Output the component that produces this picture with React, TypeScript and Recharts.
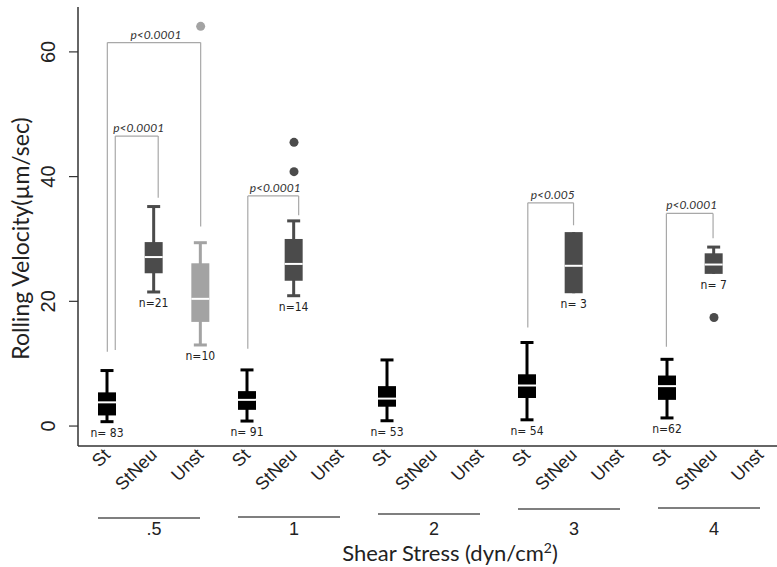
import React from "react";
import {
  ComposedChart,
  Bar,
  Scatter,
  XAxis,
  YAxis,
  ReferenceLine,
} from "recharts";

// 15 slots: 3 cell types for each of 5 shear stress levels
const CELL_TYPES = ["St", "StNeu", "Unst"];
const SHEAR_LEVELS = [".5", "1", "2", "3", "4"];

// box statistics per slot (null = no data)
const WHISKER_LOW = [0.7, 21.5, 13.0, 0.8, 20.9, null, 0.85, null, null, 1.0, 21.3, null, 1.3, 24.4, null];
const Q1 = [1.7, 24.5, 16.7, 2.6, 23.3, null, 3.1, null, null, 4.5, 21.3, null, 4.2, 24.4, null];
const MEDIAN = [3.8, 27.1, 20.4, 4.2, 26.0, null, 4.4, null, null, 6.5, 25.7, null, 6.4, 25.9, null];
const Q3 = [5.4, 29.5, 26.1, 5.6, 30.0, null, 6.4, null, null, 8.3, 31.1, null, 8.1, 27.7, null];
const WHISKER_HIGH = [8.9, 35.2, 29.4, 9.0, 32.9, null, 10.6, null, null, 13.4, 31.1, null, 10.7, 28.7, null];
const N_COUNT = ["n= 83", "n=21", "n=10", "n= 91", "n=14", null, "n= 53", null, null, "n= 54", "n= 3", null, "n=62", "n= 7", null];

// outliers: slot index and value
const OUTLIER_SLOT = [2, 4, 4, 13];
const OUTLIER_VALUE = [64.1, 45.5, 40.8, 17.4];

// significance brackets (x in slot units, y in µm/sec)
const BRACKET_X1 = [0, 0.17, 3.01, 9.01, 11.98];
const BRACKET_X2 = [2, 1.09, 4.1, 9.99, 12.98];
const BRACKET_LEFT = [11.9, 12.2, 12.4, 15.8, 12.7];
const BRACKET_RIGHT = [32, 36.6, 33.8, 32.2, 30.1];
const BRACKET_TOP = [61.5, 46.5, 36.9, 35.8, 34.1];
const BRACKET_LABEL = ["p<0.0001", "p<0.0001", "p<0.0001", "p<0.005", "p<0.0001"];

const Y_TICKS = [0, 20, 40, 60];

const COLORS = ["#000000", "#4b4b4b", "#a3a3a3"];
const AXIS = "#333333";
const BRACKET = "#a8a8a8";

const boxData = WHISKER_LOW.map((wl, i) => ({
  slot: `${SHEAR_LEVELS[Math.floor(i / 3)]}-${CELL_TYPES[i % 3]}`,
  k: i,
  wl,
  q1: Q1[i],
  med: MEDIAN[i],
  q3: Q3[i],
  wh: WHISKER_HIGH[i],
  n: N_COUNT[i],
}));

const outliers = OUTLIER_SLOT.map((k, i) => ({ k, v: OUTLIER_VALUE[i] }));

// vertical drop of each group rule below the axis line
const RULE_DROP = [72, 71, 68, 63, 62];

function BoxShape(props: any) {
  const { x, y, width, height, payload } = props;
  if (!payload || payload.wl == null) return null;
  const top = Math.min(y, y + height);
  const bot = Math.max(y, y + height);
  const span = payload.wh - payload.wl;
  const py = (v: number) => bot - ((v - payload.wl) / span) * (bot - top);
  const cx = x + width / 2;
  const color = COLORS[payload.k % 3];
  return (
    <g>
      <line x1={cx} x2={cx} y1={py(payload.wh)} y2={py(payload.wl)} stroke={color} strokeWidth={3} />
      {payload.wh > payload.q3 && (
        <line x1={cx - 6.5} x2={cx + 6.5} y1={py(payload.wh)} y2={py(payload.wh)} stroke={color} strokeWidth={3} />
      )}
      {payload.wl < payload.q1 && (
        <line x1={cx - 6.5} x2={cx + 6.5} y1={py(payload.wl)} y2={py(payload.wl)} stroke={color} strokeWidth={3} />
      )}
      <rect x={x} y={py(payload.q3)} width={width} height={py(payload.q1) - py(payload.q3)} fill={color} />
      <line x1={x} x2={x + width} y1={py(payload.med)} y2={py(payload.med)} stroke="#ffffff" strokeWidth={2} />
      <text
        x={cx}
        y={py(payload.wl) + 15}
        textAnchor="middle"
        fontSize={12}
        fontFamily="'Liberation Sans Narrow', 'DejaVu Sans Condensed', sans-serif"
        fill="#222"
      >
        {payload.n}
      </text>
    </g>
  );
}

function OutlierDot(props: any) {
  const { cx, cy, payload } = props;
  return <circle cx={cx} cy={cy} r={4.5} fill={COLORS[payload.k % 3]} />;
}

function CategoryTick(props: any) {
  const { x, y, index } = props;
  const type = CELL_TYPES[index % 3];
  const ax = x + 4;
  const ay = y + 10;
  const g = Math.floor(index / 3);
  return (
    <g>
      <text
        x={ax}
        y={ay}
        transform={`rotate(-45, ${ax}, ${ay})`}
        textAnchor="end"
        fontSize={18}
        fontFamily="'Liberation Sans', Arial, sans-serif"
        fill="#222"
      >
        {type}
      </text>
      {index % 3 === 1 && (
        <g>
          <line x1={x - 56} x2={x + 46} y1={y + RULE_DROP[g]} y2={y + RULE_DROP[g]} stroke="#555" strokeWidth={1.5} />
          <text
            x={x}
            y={y + 89}
            textAnchor="middle"
            fontSize={18}
            fontFamily="'Liberation Sans', Arial, sans-serif"
            fill="#222"
          >
            {SHEAR_LEVELS[g]}
          </text>
        </g>
      )}
    </g>
  );
}

function ValueTick(props: any) {
  const { y, payload } = props;
  const bx = 55;
  return (
    <text
      x={bx}
      y={y}
      transform={`rotate(-90, ${bx}, ${y})`}
      textAnchor="middle"
      fontSize={20}
      fontFamily="'Liberation Sans', Arial, sans-serif"
      fill="#222"
    >
      {payload.value}
    </text>
  );
}

function YTitle(props: any) {
  const vb = props.viewBox || { x: 0, y: 7, width: 78, height: 439 };
  const tx = vb.x + 29;
  const ty = vb.y + vb.height / 2 + 12;
  return (
    <text
      x={tx}
      y={ty}
      transform={`rotate(-90, ${tx}, ${ty})`}
      textAnchor="middle"
      fontSize={23}
      fontFamily="Lato, 'Open Sans', sans-serif"
      fill="#222"
    >
      Rolling Velocity(µm/sec)
    </text>
  );
}

function XTitle(props: any) {
  const vb = props.viewBox || { x: 78, y: 446, width: 706, height: 121 };
  return (
    <text
      x={vb.x + 372}
      y={vb.y + 115}
      textAnchor="middle"
      fontSize={22}
      fontFamily="Lato, 'Open Sans', sans-serif"
      fill="#222"
    >
      Shear Stress (dyn/cm
      <tspan fontSize={14} dy={-8}>2</tspan>
      <tspan dy={8}>)</tspan>
    </text>
  );
}

function BracketLabel(props: any) {
  const { viewBox, value } = props;
  if (!viewBox) return null;
  return (
    <text
      x={viewBox.x + viewBox.width / 2 + 2}
      y={viewBox.y - 4}
      textAnchor="middle"
      fontSize={12}
      fontStyle="italic"
      fontFamily="Lato, 'Open Sans', sans-serif"
      fill="#333"
    >
      {value}
    </text>
  );
}

export default function App() {
  return (
    <div style={{ position: "absolute", left: 0, top: 0, width: 777, height: 567, overflow: "hidden", background: "#fff" }}>
      <ComposedChart width={785} height={567} data={boxData} margin={{ top: 7, right: 1, bottom: 0, left: 0 }}>
        <XAxis
          xAxisId="cat"
          dataKey="slot"
          type="category"
          interval={0}
          padding={{ left: 6, right: 0 }}
          height={121}
          axisLine={{ stroke: AXIS, strokeWidth: 1.5 }}
          tickLine={false}
          tickSize={0}
          tickMargin={0}
          tick={<CategoryTick />}
          label={<XTitle />}
        />
        <XAxis xAxisId="n" dataKey="k" type="number" domain={[-0.5, 14.5]} padding={{ left: 6, right: 0 }} hide allowDataOverflow />
        <YAxis
          type="number"
          domain={[-3.2, 67.2]}
          ticks={Y_TICKS}
          allowDataOverflow
          width={78}
          axisLine={{ stroke: AXIS, strokeWidth: 1.5 }}
          tickLine={{ stroke: AXIS, strokeWidth: 1.2 }}
          tickSize={9}
          tick={<ValueTick />}
          label={<YTitle />}
        />
        {BRACKET_X1.map((x1, i) => (
          <ReferenceLine
            key={`l${i}`}
            xAxisId="n"
            segment={[{ x: x1, y: BRACKET_LEFT[i] }, { x: x1, y: BRACKET_TOP[i] }]}
            stroke={BRACKET}
            strokeWidth={1.2}
          />
        ))}
        {BRACKET_X1.map((x1, i) => (
          <ReferenceLine
            key={`t${i}`}
            xAxisId="n"
            segment={[{ x: x1, y: BRACKET_TOP[i] }, { x: BRACKET_X2[i], y: BRACKET_TOP[i] }]}
            stroke={BRACKET}
            strokeWidth={1.2}
            label={<BracketLabel value={BRACKET_LABEL[i]} />}
          />
        ))}
        {BRACKET_X2.map((x2, i) => (
          <ReferenceLine
            key={`r${i}`}
            xAxisId="n"
            segment={[{ x: x2, y: BRACKET_TOP[i] }, { x: x2, y: BRACKET_RIGHT[i] }]}
            stroke={BRACKET}
            strokeWidth={1.2}
          />
        ))}
        <Bar
          xAxisId="cat"
          dataKey={(d: any) => (d.wl == null ? null : [d.wl, d.wh])}
          barSize={18}
          shape={<BoxShape />}
          isAnimationActive={false}
        />
        <Scatter xAxisId="n" data={outliers} dataKey="v" shape={<OutlierDot />} isAnimationActive={false} />
      </ComposedChart>
    </div>
  );
}
